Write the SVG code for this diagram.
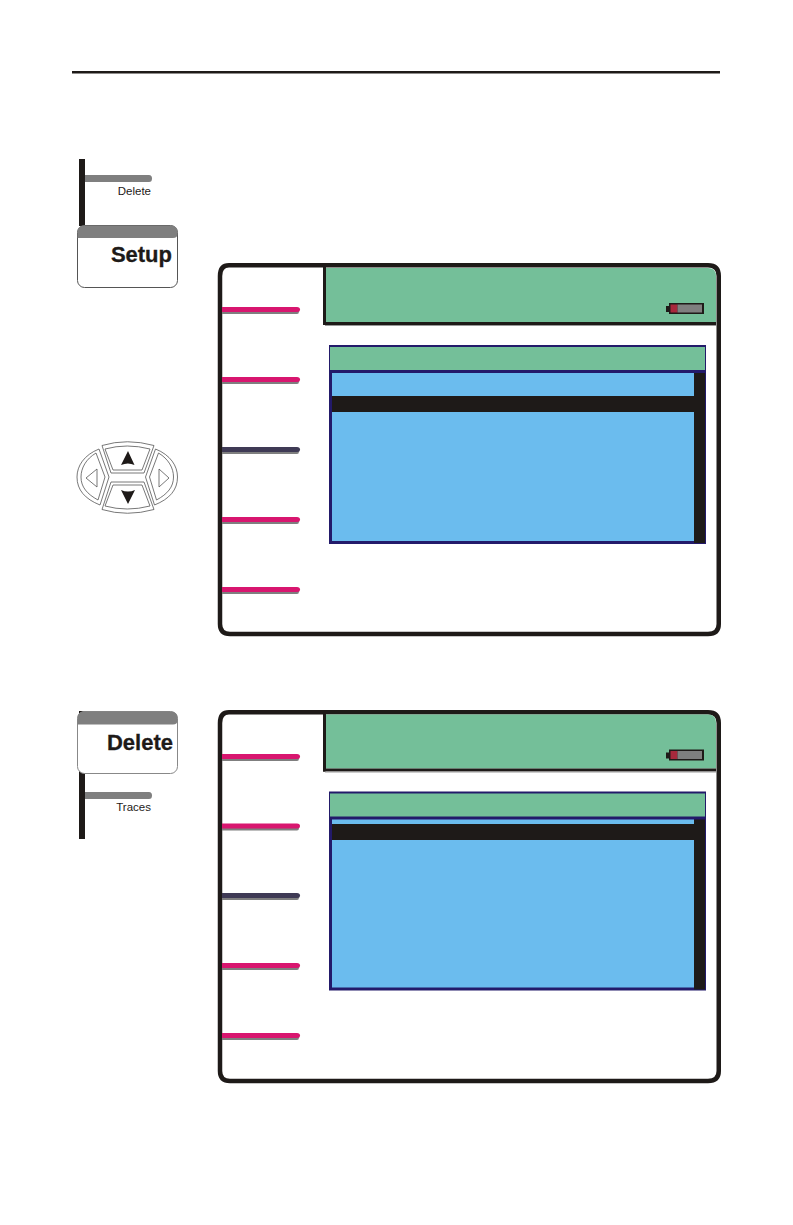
<svg xmlns="http://www.w3.org/2000/svg" xmlns:xlink="http://www.w3.org/1999/xlink" width="793" height="1225" viewBox="0 0 793 1225">
<style>
.lbl{font-family:"Liberation Sans",Arial,sans-serif;fill:#1e1a18;text-anchor:end}
.big{font-size:22px;font-weight:bold;stroke:#1e1a18;stroke-width:.3}
.small{font-size:11.500px}
.blk{fill:#1e1a18}
.grn{fill:#74bf99}
.blu{fill:#6bbcee}
.nvy{fill:#231a6a}
.gry{fill:#7f7f7f}
.pad{fill:none;stroke:#555;stroke-width:.8}
.pink{fill:#d8166f}
.dark{fill:#3f3a55}
</style>
<defs>
<path id="frame" d="M229,265.250H708Q718.750,265.250 718.750,276V624Q718.750,634 708,634H230Q220,634 220,624V276Q220,265.250 229,265.250Z" fill="#fff" stroke="#1e1a18" stroke-width="4.500"/>
<g id="screen">
<path class="grn" d="M326,268H708Q716,268 716,276V322H326Z"/>
<rect x="323" y="266" width="3" height="59" class="blk"/>
<rect x="323" y="322" width="393" height="3" class="blk"/>
<rect x="325" y="325" width="391" height="1" fill="#999"/>
<rect x="666" y="306" width="4" height="6" class="blk"/>
<rect x="669" y="303" width="35" height="11" class="blk"/>
<rect x="670.500" y="304.500" width="7" height="8" fill="#a8283c"/>
<rect x="677.500" y="304.500" width="24.500" height="8" class="gry"/>
<rect x="329" y="345" width="377" height="199" class="nvy"/>
<rect x="330" y="347" width="375" height="23" class="grn"/>
<rect x="694" y="373" width="11" height="170" class="blk"/>
<rect x="332" y="373" width="362" height="168" class="blu"/>
</g>
<path id="shadow" class="gry" d="M222,2H297Q299,2 299,4.500Q299,7 297,7H222Z"/>
<path id="key" d="M222,0H297Q300,0 300,2.500Q300,5 297,5H222Z"/>
<g id="dpadUp">
<path class="pad" d="M102,445.500Q127,438 154,445.500L144,473H111Z"/>
<path class="pad" d="M105,449Q127,443 150,449L142,470H113Z"/>
</g>
<g id="dpadLeft">
<path class="pad" d="M99,449C84,455 77,466 77,477C77,490 85,499 100,505L109,477Z"/>
<path class="pad" d="M96,453C86,459 81,468 81,477C81,487 87,494 98,500L105,477Z"/>
</g>
</defs>

<g id="rule"><rect x="72" y="71" width="648" height="2.500" class="blk"/></g>

<g id="setup-panel">
<rect x="79" y="159" width="6" height="67" class="blk"/>
<path class="gry" d="M85,175H149Q152,175 152,178.500Q152,182 149,182H85Z"/>
<text class="lbl small" x="151" y="195">Delete</text>
<rect x="77.500" y="225.500" width="100" height="62" rx="7" fill="#fff" stroke="#555" stroke-width="1"/>
<path class="gry" d="M77.500,238V232Q77.500,225.500 84,225.500H171Q177.500,225.500 177.500,232V234Q177.500,238 173,238Z"/>
<text class="lbl big" x="172" y="262">Setup</text>
</g>

<g id="dpad">
<use xlink:href="#dpadUp"/>
<use xlink:href="#dpadUp" transform="matrix(1 0 0 -1 0 955)"/>
<use xlink:href="#dpadLeft"/>
<use xlink:href="#dpadLeft" transform="matrix(-1 0 0 1 254.500 0)"/>
<path d="M128,451L134.500,465Q128,462 121,465Z" class="blk"/>
<path d="M128,504L135,490Q128,493 121,490Z" class="blk"/>
<path class="pad" d="M86,478L97,469V487Z"/>
<path class="pad" d="M169,478L159,469V487Z"/>
</g>

<g id="screen-1">
<use xlink:href="#frame"/>
<use xlink:href="#screen"/>
<rect x="332" y="396" width="362" height="16" class="blk"/>
</g>
<g id="softkeys-1">
<use xlink:href="#shadow" y="307"/><use xlink:href="#key" y="307" class="pink"/>
<use xlink:href="#shadow" y="377"/><use xlink:href="#key" y="377" class="pink"/>
<use xlink:href="#shadow" y="447"/><use xlink:href="#key" y="447" class="dark"/>
<use xlink:href="#shadow" y="517"/><use xlink:href="#key" y="517" class="pink"/>
<use xlink:href="#shadow" y="587"/><use xlink:href="#key" y="587" class="pink"/>
</g>

<g id="delete-panel">
<rect x="79" y="711" width="6" height="128" class="blk"/>
<rect x="77.500" y="711.500" width="100" height="62" rx="7" fill="#fff" stroke="#888" stroke-width="1"/>
<path class="gry" d="M77.500,724.500V718Q77.500,711.500 84,711.500H171Q177.500,711.500 177.500,718V720Q177.500,724.500 173,724.500Z"/>
<text class="lbl big" x="173" y="750">Delete</text>
<path class="gry" d="M85,792H149Q152,792 152,795.500Q152,799 149,799H85Z"/>
<text class="lbl small" x="151" y="811">Traces</text>
</g>

<g id="screen-2">
<use xlink:href="#frame" y="447"/>
<use xlink:href="#screen" y="446.500"/>
<rect x="332" y="824" width="362" height="16" class="blk"/>
</g>
<g id="softkeys-2">
<use xlink:href="#shadow" y="754"/><use xlink:href="#key" y="754" class="pink"/>
<use xlink:href="#shadow" y="823.500"/><use xlink:href="#key" y="823.500" class="pink"/>
<use xlink:href="#shadow" y="893"/><use xlink:href="#key" y="893" class="dark"/>
<use xlink:href="#shadow" y="963"/><use xlink:href="#key" y="963" class="pink"/>
<use xlink:href="#shadow" y="1033"/><use xlink:href="#key" y="1033" class="pink"/>
</g>
</svg>
